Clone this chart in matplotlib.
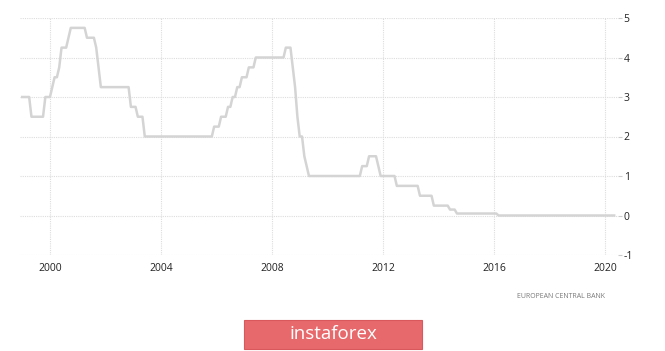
"""
ECB main refinancing rate, 1999-2020 (reproduction)
sortie : out.png
"""

import numpy as np
import matplotlib.pyplot as plt
from matplotlib.patches import Rectangle

plt.rcParams["axes.unicode_minus"] = False

# changements de taux (mois d'effet, taux en %)
change_months = [
    "1999-01", "1999-05", "1999-11", "2000-02", "2000-03", "2000-05",
    "2000-06", "2000-09", "2000-10", "2001-05", "2001-09", "2001-10",
    "2001-11", "2002-12", "2003-03", "2003-06", "2005-12", "2006-03",
    "2006-06", "2006-08", "2006-10", "2006-12", "2007-03", "2007-06",
    "2008-07", "2008-10", "2008-11", "2008-12", "2009-01", "2009-03",
    "2009-04", "2009-05", "2011-04", "2011-07", "2011-11", "2011-12",
    "2012-07", "2013-05", "2013-11", "2014-06", "2014-09", "2016-03",
]
change_rates = [
    3.0, 2.5, 3.0, 3.25, 3.5, 3.75,
    4.25, 4.5, 4.75, 4.5, 4.25, 3.75,
    3.25, 2.75, 2.5, 2.0, 2.25, 2.5,
    2.75, 3.0, 3.25, 3.5, 3.75, 4.0,
    4.25, 3.75, 3.25, 2.5, 2.0, 1.5,
    1.25, 1.0, 1.25, 1.5, 1.25, 1.0,
    0.75, 0.5, 0.25, 0.15, 0.05, 0.0,
]
last_month = "2020-05"

x_ticks = [2000, 2004, 2008, 2012, 2016, 2020]
y_ticks = [-1, 0, 1, 2, 3, 4, 5]


def to_year(s):
    y, m = s.split("-")
    return int(y) + (int(m) - 1) / 12


# série mensuelle : taux en vigueur chaque mois
ch_x = np.array([to_year(s) for s in change_months])
ch_v = np.array(change_rates)
ly, lm = map(int, last_month.split("-"))
n_months = (ly - 1999) * 12 + lm
xs = 1999 + np.arange(n_months) / 12
vals = ch_v[np.searchsorted(ch_x, xs + 1e-9, side="right") - 1]

fig = plt.figure(figsize=(6.65, 3.51), dpi=100, facecolor="white")
ax = fig.add_axes([20 / 665, 1 - 255 / 351, 598 / 665, 237 / 351])

ax.plot(xs, vals, color="#d4d4d4", lw=1.8, solid_joinstyle="round")

ax.set_xlim(1998.92, 2020.47)
ax.set_ylim(-1, 5)
ax.set_xticks(x_ticks)
ax.set_yticks(y_ticks)
ax.grid(True, color="#dddddd", lw=0.8, ls=(0, (1, 1)))
ax.set_axisbelow(True)
for s in ax.spines.values():
    s.set_visible(False)

ax.yaxis.tick_right()
ax.tick_params(axis="y", length=3, color="#cccccc", pad=1,
               labelsize=7.5, labelcolor="#222222")
ax.tick_params(axis="x", length=0, pad=6, labelsize=7.5, labelcolor="#222222")
for lab in ax.get_xticklabels() + ax.get_yticklabels():
    lab.set_family("Open Sans")

fig.text(605 / 665, 1 - 296 / 351, "EUROPEAN CENTRAL BANK", ha="right",
         va="center", fontsize=5, color="#7a7a7a", family="Open Sans")

# bandeau instaforex
fig.patches.append(Rectangle((244 / 665, 1 - 349 / 351), 178 / 665, 29 / 351,
                             transform=fig.transFigure, facecolor="#e8696c",
                             edgecolor="#d9585b", lw=0.8))
fig.text(333 / 665, 1 - 334 / 351, "instaforex", ha="center", va="center",
         fontsize=13.5, color="white", family="Open Sans")

plt.savefig("out.png", dpi=100, facecolor="white")
